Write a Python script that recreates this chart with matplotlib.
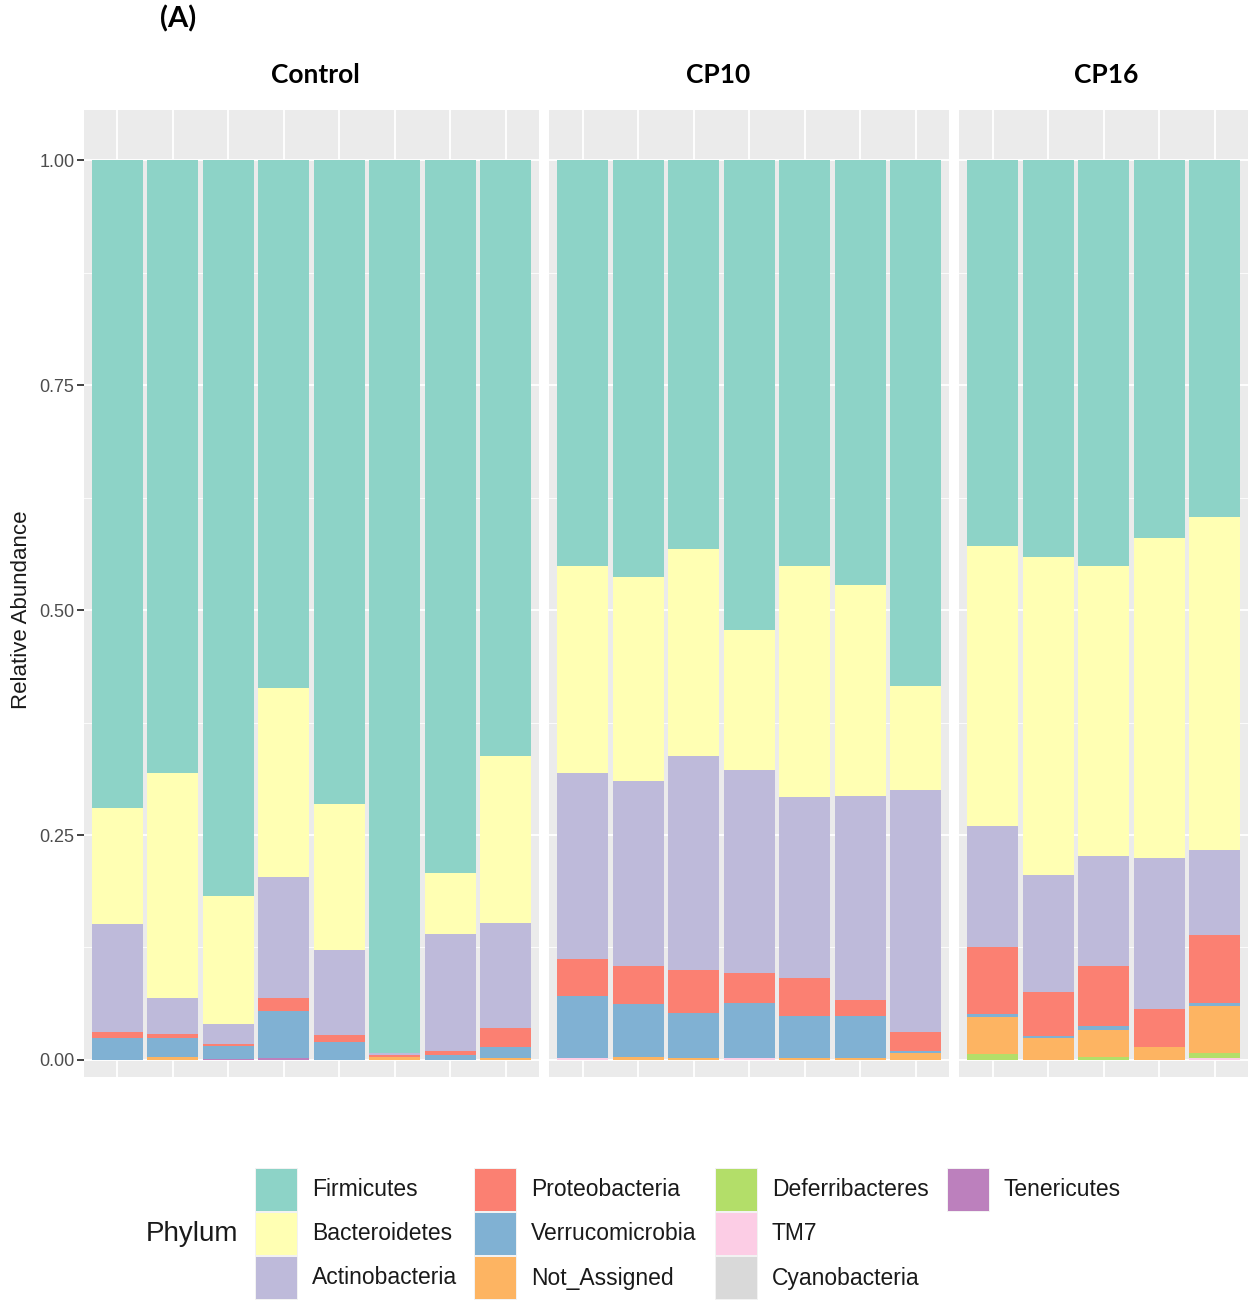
import matplotlib
matplotlib.use("Agg")
import matplotlib.pyplot as plt
from matplotlib.patches import Rectangle
import numpy as np

# groups and number of samples in each
groups = ["Control", "CP10", "CP16"]
group_sizes = [8, 7, 5]

phyla = ["Firmicutes", "Bacteroidetes", "Actinobacteria", "Proteobacteria",
         "Verrucomicrobia", "Not_Assigned", "Deferribacteres", "TM7",
         "Cyanobacteria", "Tenericutes"]
colors = ["#8DD3C7", "#FFFFB3", "#BEBADA", "#FB8072", "#80B1D3",
          "#FDB462", "#B3DE69", "#FCCDE5", "#D9D9D9", "#BC80BD"]

# relative abundance per sample (Control x8, CP10 x7, CP16 x5)
firmicutes = [0.720, 0.681, 0.818, 0.587, 0.716, 0.992, 0.792, 0.662,
              0.451, 0.463, 0.432, 0.522, 0.451, 0.472, 0.584,
              0.429, 0.441, 0.451, 0.420, 0.397]
bacteroidetes = [0.129, 0.250, 0.142, 0.210, 0.162, 0.000, 0.068, 0.186,
                 0.230, 0.227, 0.230, 0.156, 0.257, 0.235, 0.116,
                 0.311, 0.353, 0.322, 0.356, 0.370]
actinobacteria = [0.120, 0.040, 0.022, 0.134, 0.094, 0.003, 0.130, 0.116,
                  0.207, 0.206, 0.238, 0.225, 0.201, 0.226, 0.269,
                  0.134, 0.130, 0.123, 0.167, 0.094]
proteobacteria = [0.007, 0.005, 0.002, 0.015, 0.008, 0.002, 0.004, 0.022,
                  0.041, 0.042, 0.048, 0.034, 0.042, 0.018, 0.021,
                  0.075, 0.049, 0.066, 0.043, 0.076]
verrucomicrobia = [0.024, 0.021, 0.015, 0.052, 0.020, 0.000, 0.006, 0.012,
                   0.069, 0.059, 0.050, 0.061, 0.047, 0.047, 0.002,
                   0.003, 0.003, 0.005, 0.000, 0.003]
not_assigned = [0.000, 0.003, 0.000, 0.000, 0.000, 0.003, 0.000, 0.002,
                0.000, 0.003, 0.002, 0.000, 0.002, 0.002, 0.008,
                0.041, 0.024, 0.030, 0.014, 0.052]
deferribacteres = [0, 0, 0, 0, 0, 0, 0, 0,
                   0, 0, 0, 0, 0, 0, 0,
                   0.007, 0.000, 0.003, 0.000, 0.006]
tm7 = [0, 0, 0, 0, 0, 0, 0, 0,
       0.002, 0, 0, 0.002, 0, 0, 0,
       0, 0, 0, 0, 0.002]
cyanobacteria = [0] * 20
tenericutes = [0, 0, 0.001, 0.002, 0, 0, 0, 0,
               0, 0, 0, 0, 0, 0, 0,
               0, 0, 0, 0, 0]

values = np.array([firmicutes, bacteroidetes, actinobacteria, proteobacteria,
                   verrucomicrobia, not_assigned, deferribacteres, tm7,
                   cyanobacteria, tenericutes])

W, H = 1260, 1306
fig = plt.figure(figsize=(W / 100, H / 100), dpi=100)

BG = "#EBEBEB"
left_px, right_px, top_px, bot_px = 84, 1248, 110, 1077
gap_px = 10.5
units = [n + 0.2 for n in group_sizes]
avail = right_px - left_px - gap_px * (len(groups) - 1)
px_per_unit = avail / sum(units)

title_x = [315, 718, 1106]

start = 0
x0 = left_px
for gi, (g, n) in enumerate(zip(groups, group_sizes)):
    wpx = units[gi] * px_per_unit
    ax = fig.add_axes([x0 / W, 1 - bot_px / H, wpx / W, (bot_px - top_px) / H])
    ax.set_facecolor(BG)
    xs = np.arange(n)
    block = values[:, start:start + n]
    bottom = np.zeros(n)
    for k in range(len(phyla) - 1, -1, -1):
        ax.bar(xs, block[k], width=0.92, bottom=bottom, color=colors[k],
               linewidth=0, zorder=3)
        bottom += block[k]
    ax.set_xlim(-0.6, n - 0.4)
    ax.set_ylim(-0.0189, 1.0556)
    ax.set_xticks(xs)
    ax.set_xticklabels([])
    ax.set_yticks([0, 0.25, 0.5, 0.75, 1.0])
    ax.set_yticks([0.125, 0.375, 0.625, 0.875], minor=True)
    ax.grid(True, which="major", color="white", linewidth=1.3, zorder=0)
    ax.grid(True, which="minor", axis="y", color="white", linewidth=0.6, zorder=0)
    ax.set_axisbelow(True)
    for s in ax.spines.values():
        s.set_visible(False)
    ax.tick_params(axis="x", length=0)
    ax.tick_params(axis="y", which="minor", length=0)
    if gi == 0:
        ax.set_yticklabels(["0.00", "0.25", "0.50", "0.75", "1.00"])
        ax.tick_params(axis="y", which="major", length=5, width=1.3,
                       color="#333333", pad=2, labelsize=13,
                       labelcolor="#4D4D4D")
        for lab in ax.get_yticklabels():
            lab.set_family("Liberation Sans")
    else:
        ax.tick_params(axis="y", which="major", length=0, labelleft=False)
    fig.text(title_x[gi] / W, 1 - 75 / H, g, ha="center", va="center",
             fontsize=19, fontweight="bold", family="Lato")
    start += n
    x0 += wpx + gap_px

fig.text(22 / W, 1 - 610 / H, "Relative Abundance", rotation=90,
         ha="center", va="center", fontsize=16, family="Liberation Sans",
         color="#1A1A1A")
fig.text(178 / W, 1 - 19 / H, "(A)", ha="center", va="center",
         fontsize=21, fontweight="bold", family="Lato")

# legend (3 rows, filled column by column)
fig.text(192 / W, 1 - 1234 / H, "Phylum", ha="center", va="center",
         fontsize=20, family="Liberation Sans", color="#1A1A1A")
col_x = [256, 475, 716, 948]
row_y = [1169, 1213, 1257]
key_w, key_h = 41, 42
for i, (p, c) in enumerate(zip(phyla, colors)):
    cx = col_x[i // 3]
    ry = row_y[i % 3]
    fig.patches.append(Rectangle(((cx - 1) / W, 1 - (ry + key_h + 1) / H),
                                 (key_w + 2) / W, (key_h + 2) / H,
                                 transform=fig.transFigure, facecolor="#F2F2F2",
                                 edgecolor="none", zorder=1))
    fig.patches.append(Rectangle((cx / W, 1 - (ry + key_h) / H),
                                 key_w / W, key_h / H,
                                 transform=fig.transFigure, facecolor=c,
                                 edgecolor="none", zorder=2))
    fig.text((cx + 56) / W, 1 - (ry + key_h / 2) / H, p, ha="left",
             va="center", fontsize=16.5, family="Liberation Sans",
             color="#1A1A1A")

fig.savefig("out.png", dpi=100)
